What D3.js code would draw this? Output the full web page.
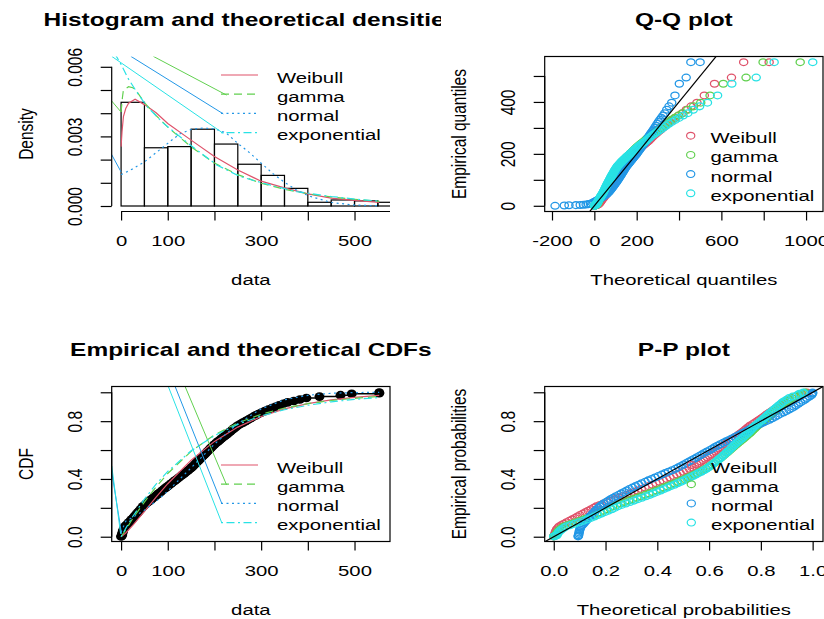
<!DOCTYPE html>
<html>
<head>
<meta charset="utf-8">
<script src="https://cdn.jsdelivr.net/npm/d3@7"></script>
<style>
  body { margin: 0; background: #fff; }
  svg { display: block; }
</style>
</head>
<body>
<script>
// ---- values ----
const names = ['Weibull', 'gamma', 'normal', 'exponential']
const colors = ['#DF536B', '#61D04F', '#2297E6', '#28E2E5']

// histogram, bins of 50
const binEdges = [0, 50, 100, 150, 200, 250, 300, 350, 400, 450, 500, 550, 600]
const binDensity = [0.00447, 0.00251, 0.00256, 0.00331, 0.00267, 0.00180, 0.00132, 0.00076, 0.00016, 0.00026, 0.00022, 0.00016]

// fitted densities [x, density]
const densWeibull = [[0, 0.00256], [2, 0.0032], [5, 0.00385], [10, 0.0042], [16, 0.00443], [30, 0.0046], [50, 0.00437], [75, 0.00402], [100, 0.00356], [150, 0.00284], [200, 0.00213], [250, 0.00155], [300, 0.00107], [350, 0.00078], [400, 0.00052], [450, 0.00034], [500, 0.00024], [553, 0.00016]]
const densGamma = [[0, 0.00405], [3, 0.0047], [5, 0.0050], [16, 0.00514], [25, 0.0051], [35, 0.0049], [51, 0.00443], [75, 0.0039], [100, 0.0034], [150, 0.00255], [200, 0.00185], [250, 0.00135], [300, 0.00098], [350, 0.00072], [400, 0.00053], [450, 0.00039], [500, 0.00029], [553, 0.0002]]
const densNormal = [[0, 0.00135], [25, 0.0016], [50, 0.0019], [75, 0.0023], [100, 0.0027], [125, 0.0031], [150, 0.0033], [175, 0.00336], [200, 0.00333], [225, 0.00315], [250, 0.0027], [275, 0.0023], [300, 0.00185], [325, 0.0014], [350, 0.00102], [375, 0.0007], [400, 0.00045], [450, 0.00015], [500, 0.00004], [553, 0.00001]]
const densExp = [[-20, 0.0068], [0, 0.0061], [15, 0.0055], [34, 0.0049], [55, 0.0043], [91, 0.00356], [148, 0.00263], [205, 0.00177], [255, 0.00127], [305, 0.00098], [376, 0.00062], [450, 0.00041], [500, 0.0003], [553, 0.00021]]
// stray solid strokes that run into the legend keys
const histStrays = [
  [],
  [[[-22, 0.00457], [0, 0.00405]], [[69, 0.00645], [226, 0.00478]]],
  [[[-22, 0.00228], [0, 0.00147]], [[21, 0.00645], [219, 0.00397]]],
  [[[-20, 0.00645], [219, 0.00313]]]
]

// sorted sample and plotting probabilities (set A)
const probs = [0.002, 0.006, 0.01, 0.03, 0.05, 0.07, 0.09, 0.11, 0.13, 0.15, 0.17, 0.19, 0.21, 0.23, 0.25, 0.27, 0.29, 0.31, 0.33, 0.35, 0.37, 0.39, 0.41, 0.43, 0.45, 0.47, 0.49, 0.51, 0.53, 0.55, 0.57, 0.59, 0.61, 0.63, 0.65, 0.67, 0.69, 0.71, 0.73, 0.75, 0.77, 0.79, 0.81, 0.83, 0.85, 0.87, 0.89, 0.91, 0.93, 0.95, 0.96, 0.97, 0.98, 0.99, 0.994, 0.998]
const sample = [0, 1, 2, 3, 5, 8, 14, 20, 25.8, 31, 36.5, 42, 47, 54, 61.5, 69, 77, 84.6, 92, 100, 108, 116, 124, 132, 140, 148, 154.5, 160.6, 166.7, 172.7, 178.8, 184.8, 191, 197, 204, 211.5, 219, 227, 234.6, 242, 250, 261, 272, 283, 294, 308, 323, 338.5, 356.6, 383, 397, 425, 470, 494, 553, 553]
// set B, the plotting positions in between
const probsB = [0.02, 0.04, 0.06, 0.08, 0.10, 0.12, 0.14, 0.16, 0.18, 0.20, 0.22, 0.24, 0.26, 0.28, 0.30, 0.32, 0.34, 0.36, 0.38, 0.40, 0.42, 0.44, 0.46, 0.48, 0.50, 0.52, 0.54, 0.56, 0.58, 0.60, 0.62, 0.64, 0.66, 0.68, 0.70, 0.72, 0.74, 0.76, 0.78, 0.80, 0.82, 0.84, 0.86, 0.88, 0.90, 0.92, 0.94]
const sampleB = [2.5, 4, 6.5, 11, 17, 22.9, 28.4, 33.8, 39.2, 44.5, 50.5, 57.8, 65.2, 73, 80.8, 88.3, 96, 104, 112, 120, 128, 136, 144, 151.3, 157.6, 163.6, 169.7, 175.8, 181.8, 187.9, 194, 200.5, 207.8, 215.2, 223, 230.8, 238.3, 246, 255.5, 266.5, 277.5, 288.5, 301, 315.5, 330.8, 347.5, 370]

// theoretical quantiles (Q-Q x positions)
const qWeibull = [1.2, 3.0, 4.5, 11.1, 17.0, 22.5, 27.8, 33.0, 38.1, 43.2, 48.2, 53.3, 58.3, 63.4, 68.5, 73.7, 78.9, 84.2, 89.6, 95.0, 100.6, 106.3, 112.0, 117.9, 123.9, 130.1, 136.5, 143.0, 149.7, 156.7, 163.9, 171.3, 179.1, 187.1, 195.6, 204.4, 213.7, 223.5, 233.9, 244.9, 256.8, 269.6, 283.5, 298.8, 315.8, 335.0, 357.0, 383.1, 415.2, 457.2, 484.6, 519.4, 567.6, 647.7, 705.3, 825.7]
const qGamma = [0.5, 1.5, 2.4, 6.5, 10.5, 14.3, 18, 21.5, 25.8, 30.2, 34.5, 38.8, 43.3, 47.7, 52.3, 56.9, 61.7, 66.4, 71.3, 76.3, 81.4, 86.7, 92, 97.7, 103.3, 109.3, 115.3, 121.6, 128.1, 134.9, 141.9, 149.5, 157.1, 165.2, 173.7, 182.7, 192.3, 202.3, 213.3, 224.9, 237.6, 251.2, 266.5, 283.2, 302, 323.6, 349, 379.3, 417.4, 468.5, 502.6, 546.6, 609.1, 716.6, 797, 972.3]
const qNormal = [-185.5, -141.9, -119.8, -66.8, -38.8, -18.6, -2.6, 11.0, 23.0, 33.7, 43.5, 52.5, 61.1, 69.1, 76.8, 84.1, 91.2, 98.0, 104.6, 111.2, 117.5, 123.8, 129.9, 136.1, 142.0, 148.1, 154.0, 160.0, 165.9, 172.0, 177.9, 184.1, 190.2, 196.5, 202.8, 209.4, 216.0, 222.8, 229.9, 237.2, 244.9, 252.9, 261.5, 270.5, 280.3, 291.0, 303.0, 316.6, 332.6, 352.8, 365.4, 380.8, 401.4, 433.8, 455.9, 499.5]
const qExp = [0.3, 1.0, 1.7, 5.1, 8.5, 12.0, 15.7, 19.3, 23.1, 27.0, 30.9, 35.0, 39.1, 43.4, 47.8, 52.2, 56.9, 61.6, 66.5, 71.5, 76.7, 82.1, 87.6, 93.3, 99.2, 105.4, 111.8, 118.4, 125.3, 132.6, 140.1, 148.0, 156.3, 165.0, 174.3, 184.0, 194.4, 205.5, 217.4, 230.1, 244.0, 259.1, 275.7, 294.2, 314.9, 338.7, 366.4, 399.7, 441.4, 497.3, 534.3, 582.1, 649.4, 764.5, 849.3, 1031.6]
const qWeibullB = [8.0, 14.1, 19.7, 25.1, 30.4, 35.5, 40.6, 45.7, 50.7, 55.8, 60.9, 66.0, 71.1, 76.3, 81.6, 86.9, 92.3, 97.8, 103.4, 109.1, 114.9, 120.9, 127.0, 133.3, 139.7, 146.3, 153.2, 160.3, 167.6, 175.2, 183.1, 191.3, 199.9, 209.0, 218.5, 228.6, 239.3, 250.8, 263.1, 276.4, 291.0, 307.1, 325.1, 345.6, 369.4, 398.2, 434.6]
const qGammaB = [4.5, 8.5, 12.4, 16.2, 19.7, 23.7, 28.0, 32.3, 36.7, 41.0, 45.5, 50.0, 54.6, 59.3, 64.1, 68.8, 73.9, 78.9, 84.1, 89.4, 94.8, 100.5, 106.3, 112.3, 118.4, 124.8, 131.4, 138.4, 145.7, 153.1, 161.0, 169.3, 178.1, 187.5, 197.2, 207.8, 218.9, 231.1, 244.2, 258.8, 274.5, 292.3, 312.4, 335.8, 363.4, 397.0, 440.8]
const qNormalB = [-87.4, -51.4, -28.0, -10.2, 4.4, 17.2, 28.5, 38.7, 48.1, 56.8, 65.1, 73.0, 80.5, 87.6, 94.6, 101.3, 108.0, 114.4, 120.7, 126.9, 133.0, 139.0, 145.1, 151.0, 157.0, 163.0, 168.9, 175.0, 181.0, 187.1, 193.3, 199.6, 206.0, 212.7, 219.4, 226.4, 233.5, 241.0, 248.9, 257.2, 265.9, 275.3, 285.5, 296.8, 309.6, 324.2, 342.0]
const qExpB = [3.4, 6.8, 10.3, 13.8, 17.5, 21.2, 25.0, 28.9, 32.9, 37.0, 41.2, 45.6, 50.0, 54.5, 59.2, 64.0, 69.0, 74.1, 79.4, 84.8, 90.4, 96.2, 102.3, 108.5, 115.1, 121.8, 128.9, 136.3, 144.0, 152.1, 160.6, 169.6, 179.1, 189.1, 199.9, 211.3, 223.6, 236.9, 251.3, 267.2, 284.7, 304.2, 326.4, 352.0, 382.2, 419.3, 467.0]

// theoretical probabilities (P-P x positions)
const pWeibull = [0, 0.0015, 0.0036, 0.0059, 0.011, 0.020, 0.039, 0.060, 0.082, 0.101, 0.123, 0.144, 0.164, 0.192, 0.221, 0.251, 0.281, 0.310, 0.338, 0.367, 0.395, 0.423, 0.449, 0.475, 0.500, 0.524, 0.543, 0.561, 0.578, 0.593, 0.609, 0.624, 0.639, 0.653, 0.669, 0.686, 0.701, 0.717, 0.732, 0.745, 0.759, 0.777, 0.794, 0.810, 0.825, 0.842, 0.859, 0.874, 0.891, 0.911, 0.920, 0.936, 0.956, 0.964, 0.978, 0.978]
const pGamma = [0, 0.004, 0.0085, 0.013, 0.023, 0.0375, 0.068, 0.101, 0.130, 0.154, 0.179, 0.204, 0.227, 0.257, 0.289, 0.321, 0.353, 0.382, 0.410, 0.438, 0.466, 0.492, 0.517, 0.542, 0.565, 0.586, 0.603, 0.619, 0.634, 0.648, 0.661, 0.674, 0.687, 0.699, 0.713, 0.727, 0.740, 0.753, 0.765, 0.777, 0.788, 0.803, 0.817, 0.830, 0.842, 0.856, 0.870, 0.882, 0.895, 0.912, 0.919, 0.933, 0.950, 0.957, 0.971, 0.971]
const pNormal = [0.094, 0.095, 0.096, 0.098, 0.101, 0.105, 0.115, 0.125, 0.135, 0.145, 0.156, 0.167, 0.178, 0.193, 0.211, 0.230, 0.251, 0.272, 0.292, 0.316, 0.340, 0.365, 0.391, 0.417, 0.443, 0.470, 0.492, 0.512, 0.533, 0.553, 0.573, 0.592, 0.613, 0.632, 0.654, 0.677, 0.699, 0.722, 0.743, 0.762, 0.783, 0.809, 0.833, 0.855, 0.875, 0.898, 0.919, 0.936, 0.953, 0.971, 0.978, 0.988, 0.996, 0.998, 1.0, 1.0]
const pExp = [0, 0.006, 0.012, 0.018, 0.030, 0.047, 0.081, 0.113, 0.144, 0.170, 0.197, 0.224, 0.247, 0.278, 0.310, 0.340, 0.371, 0.399, 0.425, 0.452, 0.478, 0.503, 0.526, 0.549, 0.570, 0.590, 0.606, 0.620, 0.634, 0.647, 0.660, 0.671, 0.684, 0.695, 0.707, 0.720, 0.733, 0.745, 0.757, 0.767, 0.778, 0.792, 0.806, 0.818, 0.830, 0.844, 0.857, 0.870, 0.883, 0.901, 0.909, 0.923, 0.941, 0.949, 0.964, 0.964]
const pWeibullB = [0.0047, 0.0084, 0.0153, 0.0292, 0.0495, 0.0709, 0.0915, 0.1123, 0.1333, 0.1542, 0.1779, 0.2068, 0.2358, 0.2662, 0.2961, 0.3242, 0.3524, 0.3812, 0.4090, 0.4362, 0.4626, 0.4879, 0.5125, 0.5341, 0.5523, 0.5690, 0.5855, 0.6016, 0.6168, 0.6319, 0.6465, 0.6615, 0.6777, 0.6934, 0.7094, 0.7246, 0.7387, 0.7524, 0.7684, 0.7860, 0.8023, 0.8175, 0.8335, 0.8504, 0.8667, 0.8826, 0.9013]
const pGammaB = [0.0105, 0.0176, 0.030, 0.0526, 0.0844, 0.1164, 0.1418, 0.1668, 0.1918, 0.2155, 0.2422, 0.2738, 0.3050, 0.3364, 0.3676, 0.3959, 0.4241, 0.4525, 0.4790, 0.5050, 0.5297, 0.5546, 0.5750, 0.5950, 0.6113, 0.6262, 0.6409, 0.6548, 0.6680, 0.6808, 0.6935, 0.7065, 0.7200, 0.7334, 0.7468, 0.7595, 0.7710, 0.7826, 0.7957, 0.8100, 0.8234, 0.8361, 0.8490, 0.8628, 0.8758, 0.8889, 0.9042]
const pNormalB = [0.097, 0.099, 0.103, 0.110, 0.120, 0.130, 0.140, 0.150, 0.161, 0.172, 0.185, 0.202, 0.220, 0.240, 0.261, 0.282, 0.304, 0.328, 0.353, 0.378, 0.404, 0.430, 0.457, 0.481, 0.502, 0.522, 0.543, 0.563, 0.582, 0.603, 0.622, 0.643, 0.665, 0.688, 0.710, 0.732, 0.753, 0.773, 0.796, 0.821, 0.844, 0.865, 0.887, 0.909, 0.928, 0.945, 0.963]
const pExpB = [0.015, 0.024, 0.038, 0.064, 0.097, 0.129, 0.157, 0.184, 0.210, 0.235, 0.262, 0.294, 0.325, 0.356, 0.385, 0.413, 0.439, 0.466, 0.491, 0.515, 0.538, 0.559, 0.580, 0.598, 0.613, 0.627, 0.640, 0.653, 0.666, 0.678, 0.689, 0.701, 0.714, 0.727, 0.739, 0.751, 0.762, 0.773, 0.785, 0.799, 0.812, 0.824, 0.837, 0.850, 0.864, 0.877, 0.892]

// fitted CDFs on a grid
const cdfX = [0, 10, 25, 50, 75, 100, 150, 200, 250, 300, 350, 400, 450, 500, 553]
const cdfWeibull = [0, 0.026, 0.079, 0.176, 0.274, 0.367, 0.530, 0.660, 0.759, 0.832, 0.885, 0.922, 0.948, 0.965, 0.978]
const cdfGamma = [0, 0.048, 0.126, 0.24, 0.345, 0.438, 0.591, 0.705, 0.788, 0.848, 0.891, 0.921, 0.943, 0.958, 0.971]
const cdfNormal = [0.03, 0.108, 0.134, 0.184, 0.245, 0.316, 0.477, 0.641, 0.783, 0.885, 0.948, 0.979, 0.993, 0.998, 1.0]
const cdfExp = [0, 0.058, 0.140, 0.260, 0.364, 0.452, 0.595, 0.700, 0.778, 0.836, 0.879, 0.910, 0.934, 0.951, 0.964]
const cdfStrays = [
  [],
  [[[137, 1.041], [226, 0.358]]],
  [[[-20, 0.45], [1, 0.02]], [[115.6, 1.041], [215.6, 0.231]]],
  [[[-20, 0.49], [-1, 0.02]], [[101, 1.041], [215.6, 0.097]]]
]

// ---- drawing ----
const FONT = '"Liberation Sans", Arial, Helvetica, sans-serif'
const SX = 1.31, TSX = 1.36
const dashes = [null, '8,5', '2,3.5', '2,3.5,8,3.5']
const LW = 1.2

const svg = d3.select('body').append('svg')
  .attr('width', 824).attr('height', 619)
  .style('font-family', FONT)
const defs = svg.append('defs')

function clip(id, x, y, w, h) {
  defs.append('clipPath').attr('id', id)
    .append('rect').attr('x', x).attr('y', y).attr('width', w).attr('height', h)
  return `url(#${id})`
}

function txt(g, x, y, s, o = {}) {
  return g.append('text')
    .attr('transform', `translate(${x},${y}) scale(${o.sx || SX},1)` + (o.rot ? ` rotate(${o.rot})` : ''))
    .attr('text-anchor', o.anchor || 'middle')
    .attr('font-size', o.size || 15.5)
    .attr('font-weight', o.bold ? 'bold' : null)
    .attr('fill', '#000')
    .text(s)
}

function region(col, row) {
  return { x0: 111.7 + col * 433, x1: 390 + col * 433, y0: 56.5 + row * 330, y1: 211.5 + row * 330 }
}

function labels(g, r, title, xlab, ylab, titleClip) {
  const cx = (r.x0 + r.x1) / 2, cy = (r.y0 + r.y1) / 2
  const tg = g.append('g')
  if (titleClip) tg.attr('clip-path', titleClip)
  txt(tg, cx, r.y0 - 30.5, title, { bold: true, size: 18, sx: TSX })
  txt(g, cx, r.y1 + 73.5, xlab)
  txt(g, r.x0 - 78.7, cy, ylab, { rot: -90 })
}

function xAxis(g, r, x, ticks, show, fmt, lineEnd) {
  const a = g.append('g').attr('transform', `translate(0,${r.y1})`)
    .call(d3.axisBottom(x).tickValues(ticks).tickSize(9).tickSizeOuter(0)
      .tickFormat((d, i) => show(i) ? fmt(d) : ''))
  a.select('.domain').remove()
  a.attr('font-size', 15.5).attr('font-family', FONT)
  a.selectAll('line').attr('stroke', '#000').attr('stroke-width', LW)
  a.selectAll('text').attr('y', 34.5).attr('dy', null).attr('fill', '#000')
    .attr('transform', `scale(${SX},1)`)
  g.append('line')
    .attr('x1', x(ticks[0])).attr('x2', lineEnd != null ? lineEnd : x(ticks[ticks.length - 1]))
    .attr('y1', r.y1).attr('y2', r.y1)
    .attr('stroke', '#000').attr('stroke-width', LW)
}

function yAxis(g, r, y, ticks, show, fmt) {
  const a = g.append('g').attr('transform', `translate(${r.x0},0)`)
    .call(d3.axisLeft(y).tickValues(ticks).tickSize(11).tickSizeOuter(0)
      .tickFormat((d, i) => show(i) ? fmt(d) : ''))
  a.select('.domain').remove()
  a.attr('font-size', 15.5).attr('font-family', FONT)
  a.selectAll('line').attr('stroke', '#000').attr('stroke-width', LW)
  a.selectAll('text').attr('x', null).attr('dy', null).attr('fill', '#000')
    .attr('text-anchor', 'middle')
    .attr('transform', `translate(-29.5,0) scale(${SX},1) rotate(-90)`)
  g.append('line')
    .attr('x1', r.x0).attr('x2', r.x0)
    .attr('y1', y(ticks[0])).attr('y2', y(ticks[ticks.length - 1]))
    .attr('stroke', '#000').attr('stroke-width', LW)
}

function box(g, r) {
  g.append('rect').attr('x', r.x0).attr('y', r.y0)
    .attr('width', r.x1 - r.x0).attr('height', r.y1 - r.y0)
    .attr('fill', 'none').attr('stroke', '#000').attr('stroke-width', LW)
}

function lineLegend(g, x0, y0) {
  names.forEach((nm, k) => {
    const yy = y0 + k * 19.2
    g.append('line').attr('x1', x0).attr('x2', x0 + 37).attr('y1', yy).attr('y2', yy)
      .attr('stroke', colors[k]).attr('stroke-width', LW).attr('stroke-dasharray', dashes[k])
    txt(g, x0 + 56, yy + 7.5, nm, { anchor: 'start' })
  })
}

function dotLegend(g, x0, y0) {
  names.forEach((nm, k) => {
    const yy = y0 + k * 19.2
    g.append('ellipse').attr('cx', x0).attr('cy', yy).attr('rx', 4.1).attr('ry', 3.4)
      .attr('fill', 'none').attr('stroke', colors[k]).attr('stroke-width', LW)
    txt(g, x0 + 19.8, yy + 7.5, nm, { anchor: 'start' })
  })
}

function rings(g, xs, ys, x, y, color) {
  g.append('g').selectAll('ellipse').data(xs).join('ellipse')
    .attr('cx', d => x(d)).attr('cy', (d, i) => y(ys[i]))
    .attr('rx', 4.1).attr('ry', 3.4)
    .attr('fill', 'none').attr('stroke', color).attr('stroke-width', 1.3)
}

const titleClip = clip('clipTitle', 0, 0, 441, 619)
const f3 = d3.format('.3f'), f1 = d3.format('.1f')
const dataTicks = [0, 100, 200, 300, 400, 500]
const dataShown = i => i === 0 || i === 1 || i === 3 || i === 5

// 1. histogram and densities
{
  const r = region(0, 0)
  const x = d3.scaleLinear().domain([-20.1, 576]).range([r.x0, r.x1])
  const y = d3.scaleLinear().domain([-0.000237, 0.006444]).range([r.y1, r.y0])
  const g = svg.append('g')
  const cp = clip('clipHist', r.x0, r.y0, r.x1 - r.x0, r.y1 - r.y0)
  const pg = g.append('g').attr('clip-path', cp)

  pg.selectAll('rect').data(binDensity).join('rect')
    .attr('x', (d, i) => x(binEdges[i]))
    .attr('width', (d, i) => x(binEdges[i + 1]) - x(binEdges[i]))
    .attr('y', d => y(d)).attr('height', d => y(0) - y(d))
    .attr('fill', 'none').attr('stroke', '#000').attr('stroke-width', LW)

  const line = d3.line().x(d => x(d[0])).y(d => y(d[1]))
  ;[densWeibull, densGamma, densNormal, densExp].forEach((c, k) => {
    pg.append('path').attr('d', line(c)).attr('fill', 'none')
      .attr('stroke', colors[k]).attr('stroke-width', LW).attr('stroke-dasharray', dashes[k])
    histStrays[k].forEach(s => pg.append('path').attr('d', line(s)).attr('fill', 'none')
      .attr('stroke', colors[k]).attr('stroke-width', 1))
  })

  xAxis(g, r, x, dataTicks, dataShown, d => d, r.x1)
  yAxis(g, r, y, [0, 0.001, 0.002, 0.003, 0.004, 0.005, 0.006], i => i % 3 === 0, f3)
  lineLegend(g, 221, 75)
  labels(g, r, 'Histogram and theoretical densities', 'data', 'Density', titleClip)
}

// 2. Q-Q plot
{
  const r = region(1, 0)
  const x = d3.scaleLinear().domain([-234.5, 1080]).range([r.x0, r.x1])
  const y = d3.scaleLinear().domain([-22, 575]).range([r.y1, r.y0])
  const g = svg.append('g')
  const cp = clip('clipQQ', r.x0, r.y0, r.x1 - r.x0, r.y1 - r.y0)
  const pg = g.append('g').attr('clip-path', cp)
  const sets = [[qWeibull, qWeibullB], [qGamma, qGammaB], [qNormal, qNormalB], [qExp, qExpB]]
  sets.forEach(([qa, qb], k) => {
    rings(pg, qa, sample, x, y, colors[k])
    rings(pg, qb, sampleB, x, y, colors[k])
  })
  const ref = [-300, 1200]
  pg.append('line').attr('x1', x(ref[0])).attr('y1', y(ref[0])).attr('x2', x(ref[1])).attr('y2', y(ref[1]))
    .attr('stroke', '#000').attr('stroke-width', LW)
  box(g, r)
  xAxis(g, r, x, [-200, 0, 200, 400, 600, 800, 1000], i => i !== 3 && i !== 5, d => d)
  yAxis(g, r, y, [0, 100, 200, 300, 400, 500], i => i % 2 === 0, d => d)
  dotLegend(g, 690.7, 135.7)
  labels(g, r, 'Q-Q plot', 'Theoretical quantiles', 'Empirical quantiles')
}

// 3. empirical and theoretical CDFs
{
  const r = region(0, 1)
  const x = d3.scaleLinear().domain([-20.1, 576]).range([r.x0, r.x1])
  const y = d3.scaleLinear().domain([-0.04, 1.04]).range([r.y1 + 1, r.y0])
  const g = svg.append('g')
  const cp = clip('clipCDF', r.x0, r.y0, r.x1 - r.x0, r.y1 - r.y0)
  const pg = g.append('g').attr('clip-path', cp)

  pg.append('g').selectAll('line').data(sample.slice(0, -1)).join('line')
    .attr('x1', d => x(d)).attr('x2', (d, i) => x(sample[i + 1]))
    .attr('y1', (d, i) => y(probs[i])).attr('y2', (d, i) => y(probs[i]))
    .attr('stroke', '#000').attr('stroke-width', 1.5)
  ;[[sample, probs], [sampleB, probsB]].forEach(([xs, ps]) => {
    pg.append('g').selectAll('ellipse').data(xs).join('ellipse')
      .attr('cx', d => x(d)).attr('cy', (d, i) => y(ps[i]))
      .attr('rx', 5).attr('ry', 4.3).attr('fill', '#000')
  })

  const line = d3.line().x(d => x(d[0])).y(d => y(d[1]))
  ;[cdfWeibull, cdfGamma, cdfNormal, cdfExp].forEach((c, k) => {
    pg.append('path').attr('d', line(c.map((v, i) => [cdfX[i], v]))).attr('fill', 'none')
      .attr('stroke', colors[k]).attr('stroke-width', LW).attr('stroke-dasharray', dashes[k])
    cdfStrays[k].forEach(s => pg.append('path').attr('d', line(s)).attr('fill', 'none')
      .attr('stroke', colors[k]).attr('stroke-width', 1))
  })
  box(g, r)
  xAxis(g, r, x, dataTicks, dataShown, d => d)
  yAxis(g, r, y, [0, 0.2, 0.4, 0.6, 0.8, 1], i => i % 2 === 0 && i < 5, f1)
  lineLegend(g, 221, 465)
  labels(g, r, 'Empirical and theoretical CDFs', 'data', 'CDF', titleClip)
}

// 4. P-P plot
{
  const r = region(1, 1)
  const x = d3.scaleLinear().domain([-0.035, 1.04]).range([r.x0, r.x1])
  const y = d3.scaleLinear().domain([-0.04, 1.04]).range([r.y1 + 1, r.y0])
  const g = svg.append('g')
  const cp = clip('clipPP', r.x0, r.y0, r.x1 - r.x0, r.y1 - r.y0)
  const pg = g.append('g').attr('clip-path', cp)
  const sets = [[pWeibull, pWeibullB], [pGamma, pGammaB], [pNormal, pNormalB], [pExp, pExpB]]
  sets.forEach(([pa, pb], k) => {
    rings(pg, pa, probs, x, y, colors[k])
    rings(pg, pb, probsB, x, y, colors[k])
  })
  const ref = [-0.1, 1.1]
  pg.append('line').attr('x1', x(ref[0])).attr('y1', y(ref[0])).attr('x2', x(ref[1])).attr('y2', y(ref[1]))
    .attr('stroke', '#000').attr('stroke-width', LW)
  box(g, r)
  xAxis(g, r, x, [0, 0.2, 0.4, 0.6, 0.8, 1], () => true, f1)
  yAxis(g, r, y, [0, 0.2, 0.4, 0.6, 0.8, 1], i => i % 2 === 0 && i < 5, f1)
  dotLegend(g, 691.3, 465)
  labels(g, r, 'P-P plot', 'Theoretical probabilities', 'Empirical probabilities')
}
</script>
</body>
</html>
